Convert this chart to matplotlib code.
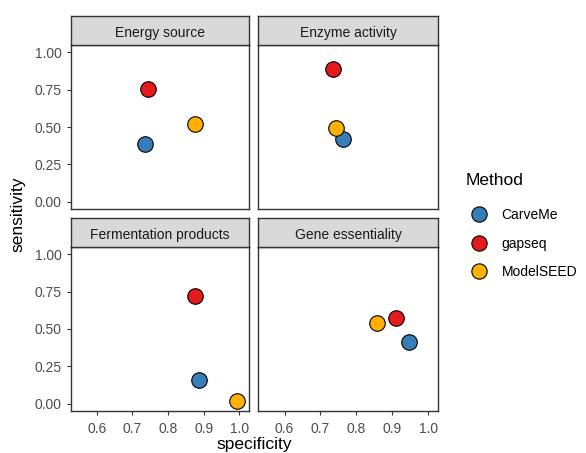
import matplotlib.pyplot as plt
from matplotlib.lines import Line2D

plt.rcParams['font.family'] = ['Liberation Sans', 'DejaVu Sans']

panels = ['Energy source', 'Enzyme activity', 'Fermentation products', 'Gene essentiality']
methods = ['CarveMe', 'gapseq', 'ModelSEED']
colors = ['#377EB8', '#E41A1C', '#FFB000']

# specificity / sensitivity per panel, order: CarveMe, gapseq, ModelSEED
spec = {
    'Energy source': [0.735, 0.743, 0.876],
    'Enzyme activity': [0.762, 0.734, 0.742],
    'Fermentation products': [0.886, 0.877, 0.994],
    'Gene essentiality': [0.946, 0.911, 0.858],
}
sens = {
    'Energy source': [0.385, 0.757, 0.521],
    'Enzyme activity': [0.419, 0.889, 0.493],
    'Fermentation products': [0.157, 0.718, 0.018],
    'Gene essentiality': [0.416, 0.577, 0.541],
}

W, H = 586, 453
fig = plt.figure(figsize=(W / 100, H / 100), dpi=100)

cols = [(70.7, 249.3), (258.3, 438.3)]
rows = [(16, 45, 209), (218, 247, 411)]
grey = '#4D4D4D'
border = '#333333'

for i, name in enumerate(panels):
    r, c = divmod(i, 2)
    x0, x1 = cols[c]
    st, pt, pb = rows[r]
    ax = fig.add_axes([x0 / W, 1 - pb / H, (x1 - x0) / W, (pb - pt) / H])
    for k in range(3):
        ax.scatter(spec[name][k], sens[name][k], s=125, color=colors[k],
                   edgecolor='black', linewidth=0.8, zorder=3)
    ax.set_xlim(0.527, 1.028)
    ax.set_ylim(-0.05, 1.05)
    ax.set_xticks([0.6, 0.7, 0.8, 0.9, 1.0])
    ax.set_yticks([0, 0.25, 0.5, 0.75, 1.0])
    ax.set_xticklabels(['0.6', '0.7', '0.8', '0.9', '1.0'])
    ax.set_yticklabels(['0.00', '0.25', '0.50', '0.75', '1.00'])
    ax.tick_params(colors=border, labelcolor=grey, labelsize=10, length=3, width=0.8)
    ax.tick_params(axis='x', pad=5)
    if r == 0:
        ax.tick_params(axis='x', bottom=False, labelbottom=False)
    if c == 1:
        ax.tick_params(axis='y', left=False, labelleft=False)
    for sp in ax.spines.values():
        sp.set_color(border)
        sp.set_linewidth(1.0)

    sax = fig.add_axes([x0 / W, 1 - pt / H, (x1 - x0) / W, (pt - st) / H])
    sax.set_facecolor('#D9D9D9')
    sax.set_xticks([])
    sax.set_yticks([])
    for sp in sax.spines.values():
        sp.set_color(border)
        sp.set_linewidth(1.0)
    sax.text(0.5, 0.46, name, ha='center', va='center_baseline', fontsize=10, color='#1A1A1A',
             transform=sax.transAxes)

fig.text(254 / W, 1 - 445 / H, 'specificity', ha='center', va='center', fontsize=12.5)
fig.text(18 / W, 1 - 214 / H, 'sensitivity', ha='center', va='center', fontsize=12.5, rotation=90)

handles = [Line2D([], [], marker='o', linestyle='', markersize=11, markerfacecolor=c,
                  markeredgecolor='black', markeredgewidth=0.8) for c in colors]
fig.legend(handles, methods, title='Method', loc='upper left',
           bbox_to_anchor=(460 / W, 1 - 173 / H), frameon=False, fontsize=10,
           title_fontsize=12.5, labelspacing=1.05, handletextpad=0.6, alignment='left',
           borderaxespad=0)
fig.legends[0].get_title().set_position((0, 6))

fig.savefig('out.png', dpi=100)
